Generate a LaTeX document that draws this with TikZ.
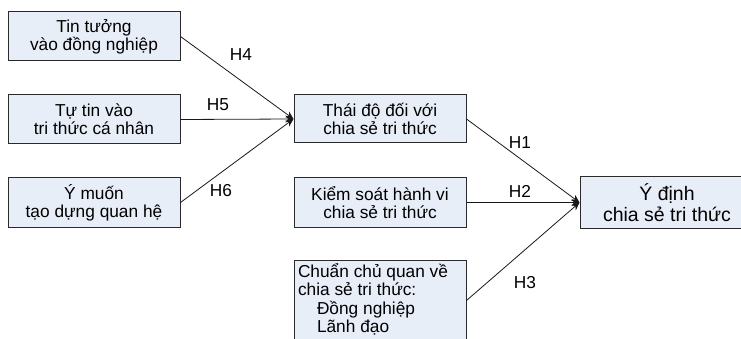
\documentclass[tikz,border=0pt]{standalone}
\usepackage{fontspec}
\setmainfont{Liberation Sans}
\usetikzlibrary{arrows.meta}
\definecolor{boxfill}{HTML}{E8EEF8}
\definecolor{boxline}{HTML}{2A2A2A}
\tikzset{
  concept/.style={draw=boxline, line width=1pt, fill=boxfill, inner sep=0pt,
    minimum width=172pt, minimum height=49pt, align=center,
    font=\fontsize{17.3}{18}\selectfont},
  bigconcept/.style={concept, minimum width=174pt, minimum height=51pt,
    font=\fontsize{19.5}{21}\selectfont},
  link/.style={draw=black!90, line width=0.8pt, -{Stealth[length=8pt,width=7pt]}},
  hyp/.style={inner sep=0pt, font=\fontsize{17.3}{18}\selectfont}
}
\begin{document}
\begin{tikzpicture}[x=1pt,y=-1pt]
\path[use as bounding box] (0,0) rectangle (741,339);
\clip (0,0) rectangle (741,339);
\fill[white] (0,0) rectangle (741,339);

\node[concept] (tin) at (94,36.5) {Tin tưởng\\vào đồng nghiệp};
\node[concept] (tutin) at (94,119.5) {Tự tin vào\\tri thức cá nhân};
\node[concept] (ymuon) at (94,202.5) {Ý muốn\\tạo dựng quan hệ};

\node[concept, minimum height=48pt] (thaido) at (380,119) {Thái độ đối với\\chia sẻ tri thức};
\node[concept] (kiemsoat) at (380,202.5) {Kiểm soát hành vi\\chia sẻ tri thức};
\node[concept, minimum height=81pt] (chuan) at (380,300.5)
  {\hbox{\hspace*{4pt}\parbox[c][81pt][t]{168pt}{\lineskiplimit=-20pt\baselineskip=18.5pt
   \rule{0pt}{17pt}Chuẩn chủ quan về\\
   chia sẻ tri thức:\\
   \hspace*{19pt}Đồng nghiệp\\
   \hspace*{19pt}Lãnh đạo}}};

\node[bigconcept] (ydinh) at (667,202.5) {Ý định\\chia sẻ tri thức};

\draw[link] (tin.east) -- (thaido.west);
\draw[link] (tutin.east) -- (thaido.west);
\draw[link] (ymuon.east) -- (thaido.west);
\draw[link] (thaido.east) -- (ydinh.west);
\draw[link] (kiemsoat.east) -- (ydinh.west);
\draw[link] (chuan.east) -- (ydinh.west);

\node[hyp] (h4) at (241,55) {H4};
\node[hyp] (h5) at (218,105) {H5};
\node[hyp] (h6) at (221,191) {H6};
\node[hyp] (h1) at (520,143) {H1};
\node[hyp] (h2) at (520,191) {H2};
\node[hyp] (h3) at (525,283) {H3};
\end{tikzpicture}
\end{document}
